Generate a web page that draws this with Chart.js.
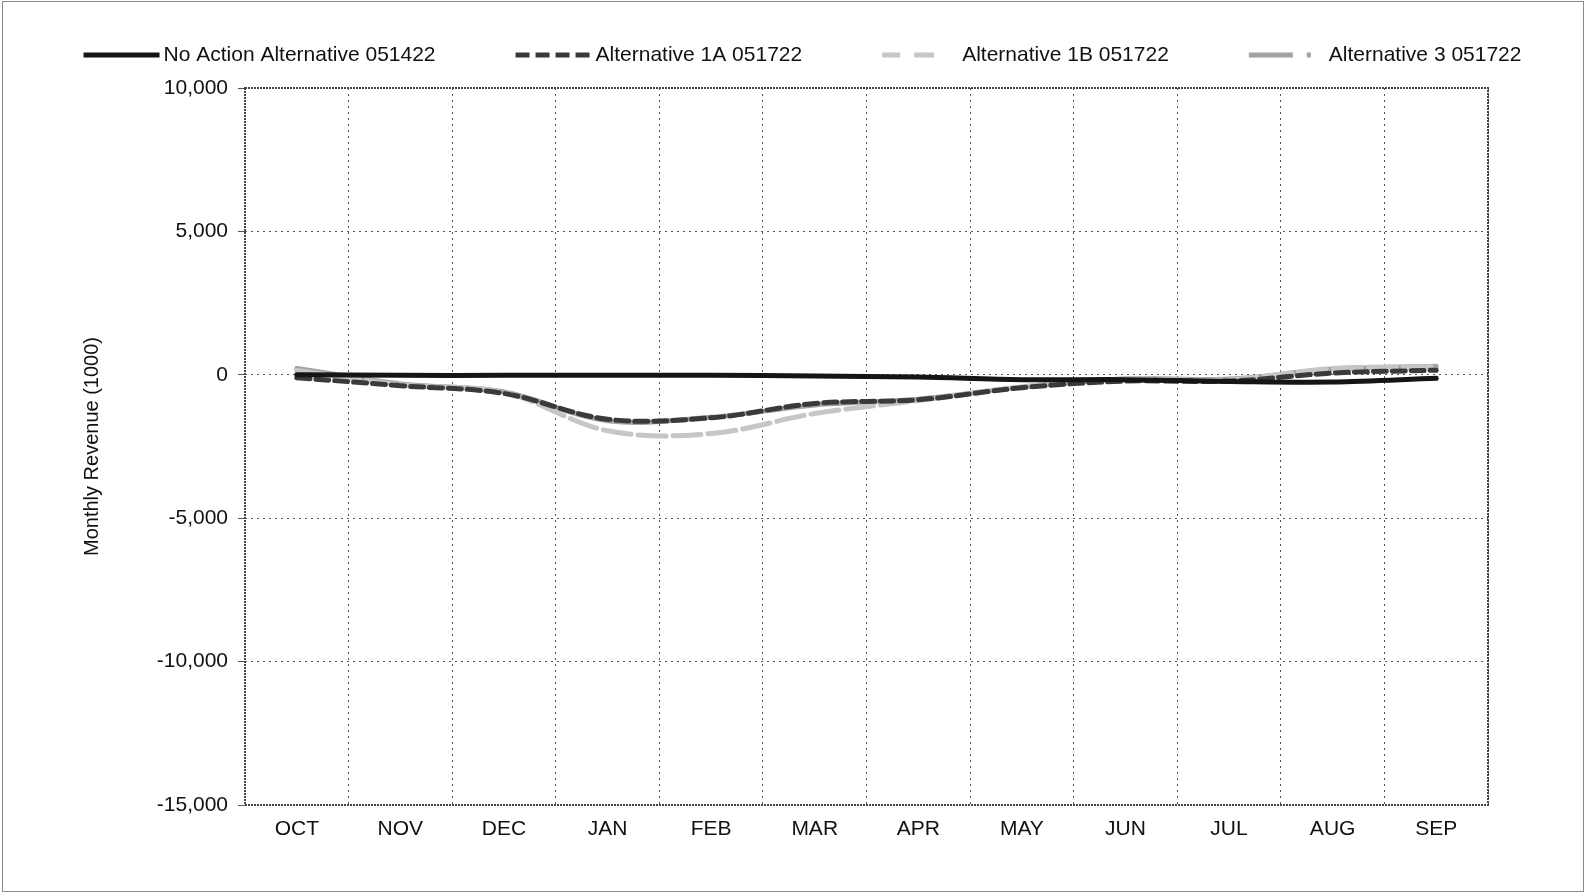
<!DOCTYPE html>
<html>
<head>
<meta charset="utf-8">
<script src="https://cdn.jsdelivr.net/npm/chart.js@4.4.1/dist/chart.umd.min.js"></script>
<style>
  html, body { margin: 0; padding: 0; background: #fff; }
  #wrap { position: relative; width: 1585px; height: 893px; }
  #frame { position: absolute; left: 2px; top: 1px; width: 1580px; height: 889px; border: 1px solid #8a8a8a; pointer-events: none; }
</style>
</head>
<body>
<div id="wrap">
  <canvas id="revenue-chart" width="1585" height="893"></canvas>
  <div id="frame"></div>
</div>
<script>
const months = ['OCT', 'NOV', 'DEC', 'JAN', 'FEB', 'MAR', 'APR', 'MAY', 'JUN', 'JUL', 'AUG', 'SEP'];

const noAction = [0, -20, -20, -20, -20, -40, -80, -170, -170, -230, -250, -120];
const alt1A = [-100, -380, -650, -1550, -1500, -1000, -870, -450, -220, -220, 60, 160];
const alt1B = [150, -350, -620, -1950, -2050, -1350, -900, -420, -150, -170, 220, 280];
const alt3 = [220, -320, -600, -1600, -1480, -1050, -850, -430, -140, -150, 200, 300];

const yTicks = [10000, 5000, 0, -5000, -10000, -15000];

const FONT = 'Arial, "Liberation Sans", sans-serif';
const fmt = v => v.toLocaleString('en-US');

// legend drawn by hand so the items can sit in one evenly spaced row
const topLegend = {
    id: 'topLegend',
    afterDraw(chart) {
        const ctx = chart.ctx;
        const sample = 76, gap = 4, spacing = 80, y = 55;
        ctx.save();
        ctx.font = '21px ' + FONT;
        const items = chart.data.datasets.map(ds => ({ ds, w: ctx.measureText(ds.label).width }));
        const total = items.reduce((acc, it) => acc + sample + gap + it.w, 0) + spacing * (items.length - 1);
        let x = (chart.width - total) / 2 + 10;
        items.forEach(({ ds, w }) => {
            ctx.strokeStyle = ds.borderColor;
            ctx.lineWidth = ds.borderWidth;
            ctx.setLineDash(ds.legendDash || []);
            ctx.beginPath();
            ctx.moveTo(x, y);
            ctx.lineTo(x + sample, y);
            ctx.stroke();
            ctx.setLineDash([]);
            ctx.fillStyle = '#111';
            ctx.textBaseline = 'middle';
            ctx.textAlign = 'left';
            ctx.fillText(ds.label, x + sample + gap, y);
            x += sample + gap + w + spacing;
        });
        ctx.restore();
    }
};

// dotted frame round the plot area
const plotFrame = {
    id: 'plotFrame',
    beforeDatasetsDraw(chart) {
        const { ctx, chartArea: a } = chart;
        ctx.save();
        ctx.strokeStyle = '#444';
        ctx.lineWidth = 2;
        ctx.setLineDash([2, 1]);
        ctx.strokeRect(a.left, a.top, a.right - a.left, a.bottom - a.top);
        ctx.restore();
    }
};

new Chart(document.getElementById('revenue-chart'), {
    type: 'line',
    data: {
        labels: months,
        datasets: [
            {
                label: 'No Action Alternative 051422',
                data: noAction,
                borderColor: '#151515',
                borderWidth: 5,
                legendDash: []
            },
            {
                label: 'Alternative 1A 051722',
                data: alt1A,
                borderColor: '#3a3a3a',
                borderWidth: 5,
                borderDash: [13, 6],
                legendDash: [14, 6]
            },
            {
                label: 'Alternative 1B 051722',
                data: alt1B,
                borderColor: '#c6c6c6',
                borderWidth: 5,
                borderDash: [28, 7],
                legendDash: [18, 14, 20, 30]
            },
            {
                label: 'Alternative 3 051722',
                data: alt3,
                borderColor: '#a2a2a2',
                borderWidth: 5,
                legendDash: [44, 14, 4, 20]
            }
        ]
    },
    options: {
        responsive: false,
        animation: false,
        layout: { padding: { top: 88, right: 97, left: 0, bottom: 0 } },
        elements: {
            line: { tension: 0.35, fill: false, borderCapStyle: 'round' },
            point: { radius: 0 }
        },
        plugins: {
            legend: { display: false },
            tooltip: { enabled: false }
        },
        scales: {
            x: {
                type: 'category',
                offset: true,
                grid: { offset: true, color: '#555', lineWidth: 1, drawTicks: false },
                border: { display: false, dash: [2, 4] },
                ticks: { color: '#111', font: { family: FONT, size: 21 }, padding: 12 },
                afterFit(scale) { scale.height = 88; }
            },
            y: {
                min: -15000,
                max: 10000,
                afterBuildTicks(scale) { scale.ticks = yTicks.map(v => ({ value: v })); },
                grid: { color: '#555', lineWidth: 1, tickLength: 7 },
                border: { display: false, dash: [2, 4] },
                ticks: {
                    color: '#111',
                    font: { family: FONT, size: 21 },
                    padding: 10,
                    callback: v => fmt(v)
                },
                title: {
                    display: true,
                    text: 'Monthly Revenue (1000)',
                    color: '#111',
                    font: { family: FONT, size: 20 },
                    padding: { top: 80, bottom: 0 }
                },
                afterFit(scale) { scale.width = 245; }
            }
        }
    },
    plugins: [topLegend, plotFrame]
});
</script>
</body>
</html>
